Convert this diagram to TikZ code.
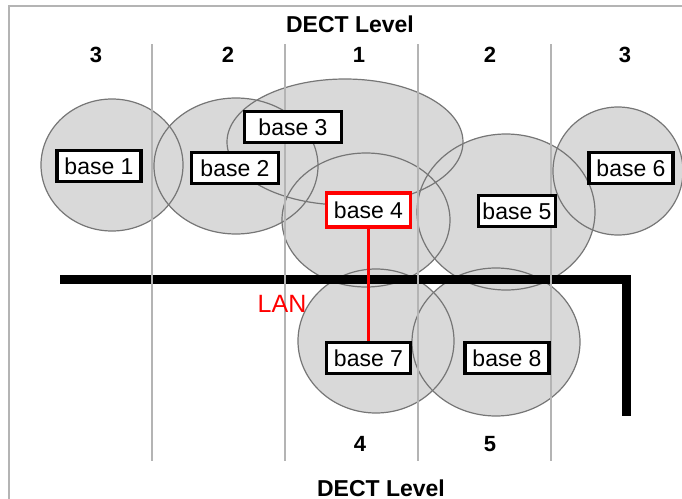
\documentclass[tikz,border=0pt]{standalone}
\usepackage{fontspec}
\setmainfont{Liberation Sans}
\usetikzlibrary{positioning}
\definecolor{cellgray}{RGB}{217,217,217}
\definecolor{celledge}{RGB}{118,118,118}
\definecolor{gridgray}{RGB}{180,180,180}
\definecolor{lanred}{RGB}{255,0,0}
\tikzset{
  basebox/.style={draw=black, line width=1.6pt, fill=white, inner sep=0pt,
    minimum width=42pt, minimum height=15.5pt, font=\fontsize{11.5}{13}\selectfont},
  lvl/.style={font=\bfseries\fontsize{11}{13}\selectfont},
  gridline/.style={draw=gridgray, line width=0.8pt},
  lanwire/.style={draw=black, line width=4.5pt, line join=miter},
  uplink/.style={draw=lanred, line width=1.3pt}
}
\begin{document}
\begin{tikzpicture}[x=0.5pt, y=-0.5pt]
\useasboundingbox (0,0) rectangle (682,499);
% radio cells of the base stations
\foreach \cx/\cy/\rx/\ry in {112/165/71/66, 236/166/82/68, 345/142/118/63,
    366/220/84/67, 506/212/89/78, 618/171/65/64, 376/341/78/72, 496/342/84/74}
  \fill[cellgray] (\cx,\cy) ellipse [x radius=\rx*0.5pt, y radius=\ry*0.5pt];
\foreach \cx/\cy/\rx/\ry in {112/165/71/66, 236/166/82/68, 345/142/118/63,
    366/220/84/67, 506/212/89/78, 618/171/65/64, 376/341/78/72, 496/342/84/74}
  \draw[celledge, line width=0.6pt] (\cx,\cy) ellipse [x radius=\rx*0.5pt, y radius=\ry*0.5pt];
% LAN cable
\coordinate (wireW) at (60,279.5);
\coordinate (wireE) at (626.5,279.5);
\coordinate (wireS) at (626.5,416);
\draw[lanwire] (wireW) -- (wireE) -- (wireS);
% frame and level columns
\draw[draw=gridgray, line width=1pt] (8.5,499) -- (8.5,6) -- (682,6);
\foreach \gx in {152,285,418,551}
  \draw[gridline] (\gx,44) -- (\gx,461);
% base stations
\node[basebox] (b1) at (99,166) {base 1};
\node[basebox, minimum width=43.5pt] (b2) at (235,168) {base 2};
\node[basebox, minimum width=48.5pt] (b3) at (293,127) {base 3};
\node[basebox, draw=lanred, minimum height=17pt] (b4) at (368.5,210) {base 4};
\node[basebox, minimum width=38.5pt] (b5) at (517,211) {base 5};
\node[basebox] (b6) at (631,168) {base 6};
\node[basebox] (b7) at (368.5,358) {base 7};
\node[basebox] (b8) at (507,358) {base 8};
\draw[uplink] (b4) -- (b7);
\node[text=lanred, font=\fontsize{12.5}{14}\selectfont] (lan) at (282,304) {LAN};
% level labels
\node[lvl, font=\bfseries\fontsize{11.5}{13}\selectfont] (ttltop) at (350,24) {DECT Level};
\node[lvl, font=\bfseries\fontsize{11.5}{13}\selectfont] (ttlbot) at (381,488) {DECT Level};
\foreach \lx/\lt [count=\i] in {96/3, 228/2, 359/1, 490/2, 625/3}
  \node[lvl] (top\i) at (\lx,55) {\lt};
\node[lvl] (bot4) at (360,444) {4};
\node[lvl] (bot5) at (490,444) {5};
\end{tikzpicture}
\end{document}
